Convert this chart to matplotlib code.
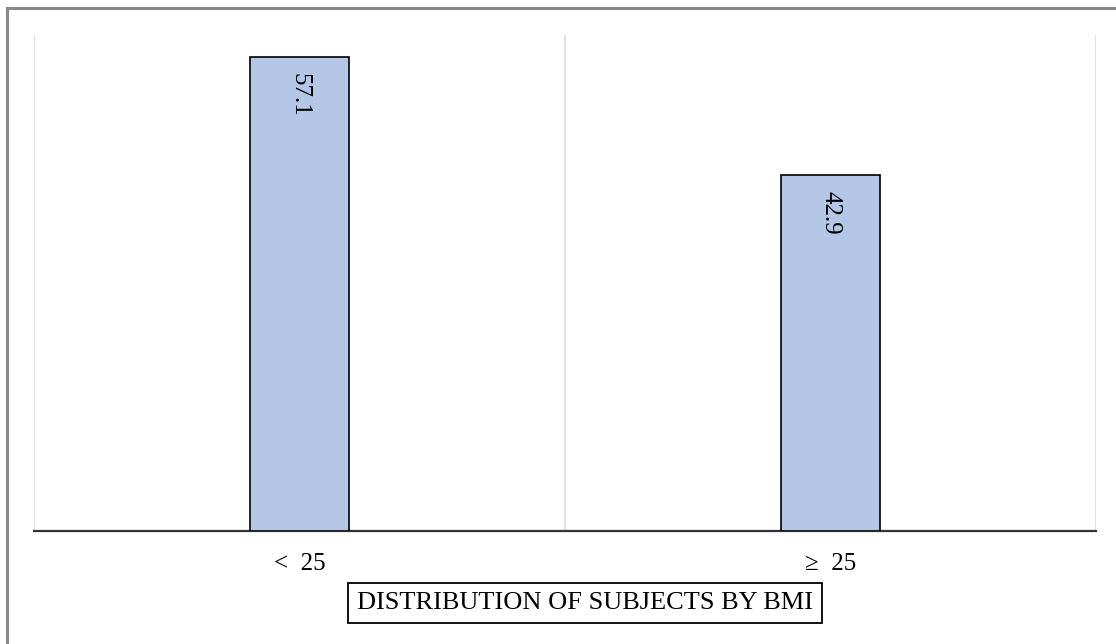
import numpy as np
import matplotlib.pyplot as plt
from matplotlib.lines import Line2D

plt.rcParams["font.family"] = ["Liberation Serif", "DejaVu Serif"]

# BMI groups and share of subjects (%)
categories = ["<  25", "≥  25"]
percent = [57.1, 42.9]

fig = plt.figure(figsize=(11.16, 6.44), dpi=100)
ax = fig.add_axes([34 / 1116, 1 - 531 / 644, (1096 - 34) / 1116, (531 - 35) / 644])

x = np.arange(len(categories))
bars = ax.bar(x, percent, width=0.187, color="#b4c7e7", edgecolor="black", linewidth=1.2, zorder=3)

for rect, v in zip(bars, percent):
    ax.text(rect.get_x() + rect.get_width() / 2, v - 1.9, f"{v:.1f}",
            rotation=270, ha="center", va="top", fontsize=18, zorder=4)

ax.set_xlim(-0.5, len(categories) - 0.5)
ax.set_ylim(0, 59.8)
ax.set_yticks([])
ax.set_xticks(x)
ax.set_xticklabels(categories, fontsize=18)
ax.tick_params(axis="x", length=0, pad=16)

# light separators between the groups
ax.set_xticks(np.arange(-0.5, len(categories)), minor=True)
ax.tick_params(axis="x", which="minor", length=0)
ax.grid(True, axis="x", which="minor", color="#e2e2e2", linewidth=1.5, zorder=0)
ax.grid(False, axis="x", which="major")

for side in ["top", "right", "left"]:
    ax.spines[side].set_visible(False)
ax.spines["bottom"].set_linewidth(1.6)
ax.spines["bottom"].set_color("#333333")

# boxed caption under the axis
fig.text(585 / 1116, 1 - 603 / 644, "DISTRIBUTION OF SUBJECTS BY BMI", ha="center", va="center",
         fontsize=19,
         bbox=dict(boxstyle="square,pad=0.35", facecolor="white", edgecolor="black", linewidth=1.3))

# outer frame (top and left edges)
fig.add_artist(Line2D([7 / 1116, 7 / 1116], [0, 1 - 8 / 644], color="#8a8a8a", linewidth=2.2))
fig.add_artist(Line2D([7 / 1116, 1], [1 - 8 / 644, 1 - 8 / 644], color="#8a8a8a", linewidth=2.2))

fig.savefig("out.png", dpi=100)
